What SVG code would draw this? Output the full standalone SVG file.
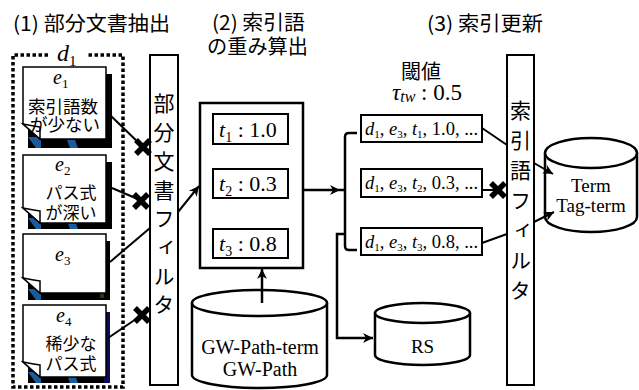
<svg xmlns="http://www.w3.org/2000/svg" xmlns:xlink="http://www.w3.org/1999/xlink" width="639" height="390" viewBox="0 0 639 390">
<style>
.jp{font-family:"Noto Sans CJK JP","Noto Sans",sans-serif;fill:#000}
.sf{font-family:"Liberation Serif","DejaVu Serif",serif;fill:#000}
.it{font-style:italic}
.vt{writing-mode:vertical-rl;font-family:"Noto Sans CJK JP",sans-serif;font-size:21px;fill:#000}
.box{fill:#fff;stroke:#000;stroke-width:2}
.bx2{fill:#fff;stroke:#000;stroke-width:2.5}
.ln{fill:none;stroke:#000;stroke-width:2}
.lnb{fill:none;stroke:#000;stroke-width:2.5}
.page{fill:#fff;stroke:#000;stroke-width:1.5}
.cross{stroke:#000;stroke-width:5.5;fill:none}
</style>
<defs>
<marker id="ah" markerWidth="12" markerHeight="12" refX="10" refY="6" orient="auto" markerUnits="userSpaceOnUse">
<path d="M0,1 L10,6 L0,11 L3,6 Z" fill="#000"/>
</marker>
<path id="xm" class="cross" d="M-7,-7 L7,7 M-7,7 L7,-7"/>
</defs>

<!-- titles -->
<text class="jp" x="13" y="31" font-size="20" textLength="157" lengthAdjust="spacingAndGlyphs">(1) 部分文書抽出</text>
<text class="jp" x="212" y="30" font-size="20" textLength="93" lengthAdjust="spacingAndGlyphs">(2) 索引語</text>
<text class="jp" x="207" y="54" font-size="20" textLength="101" lengthAdjust="spacingAndGlyphs">の重み算出</text>
<text class="jp" x="427" y="31" font-size="20" textLength="116" lengthAdjust="spacingAndGlyphs">(3) 索引更新</text>

<!-- d1 group -->
<g id="d1">
<path d="M48,55 H13 V387 H123 V55 H88" fill="none" stroke="#000" stroke-width="3.5" stroke-dasharray="3.5,2.5"/>
<text class="sf it" x="57" y="61" font-size="24">d<tspan font-style="normal" font-size="15" dy="5">1</tspan></text>
</g>

<!-- pages -->
<g id="e1">
<rect x="28" y="74" width="84" height="74" fill="#000"/>
<polygon points="28,137 41,137 41,148 36,148" fill="#1a5a9e"/>
<polygon points="67,140 75,140 78,148 70,148" fill="#1a5a9e"/>
<path class="page" d="M23,67 H106 V139 H40 L23,124 Z"/>
<path class="page" d="M23,124 Q33,126 40,127 L40,139 Z"/>
<text class="sf it" x="53" y="84" font-size="20">e<tspan font-style="normal" font-size="13" dy="4">1</tspan></text>
<text class="jp" font-size="17.5" text-anchor="middle"><tspan x="63" y="113">索引語数</tspan><tspan x="65" y="131">が少ない</tspan></text>
</g>
<g id="e2">
<rect x="28" y="162" width="84" height="67" fill="#000"/>
<polygon points="28,218 41,218 41,229 36,229" fill="#1a5a9e"/>
<polygon points="67,221 75,221 78,229 70,229" fill="#1a5a9e"/>
<path class="page" d="M23,155 H106 V223 H40 L23,208 Z"/>
<path class="page" d="M23,208 Q33,210 40,211 L40,223 Z"/>
<text class="sf it" x="55" y="171" font-size="20">e<tspan font-style="normal" font-size="13" dy="4">2</tspan></text>
<text class="jp" font-size="17" text-anchor="middle"><tspan x="71" y="199">パス式</tspan><tspan x="71" y="219">が深い</tspan></text>
</g>
<g id="e3">
<rect x="28" y="241" width="82" height="59" fill="#000"/>
<rect x="100" y="243" width="4" height="55" fill="#1d3a12"/>
<polygon points="28,289 41,289 41,300 36,300" fill="#1a5a9e"/>
<path class="page" d="M23,234 H106 V293 H40 L23,278 Z"/>
<path class="page" d="M23,278 Q33,280 40,281 L40,293 Z"/>
<text class="sf it" x="55" y="261" font-size="20">e<tspan font-style="normal" font-size="13" dy="4">3</tspan></text>
</g>
<g id="e4">
<rect x="28" y="312" width="82" height="71" fill="#000"/>
<rect x="104" y="312" width="6" height="71" fill="#0b0b55"/>
<polygon points="28,372 41,372 41,383 36,383" fill="#1a5a9e"/>
<polygon points="67,375 75,375 78,383 70,383" fill="#1a5a9e"/>
<path class="page" d="M23,305 H106 V377 H40 L23,362 Z"/>
<path class="page" d="M23,362 Q33,364 40,365 L40,377 Z"/>
<text class="sf it" x="56" y="322" font-size="20">e<tspan font-style="normal" font-size="13" dy="4">4</tspan></text>
<text class="jp" font-size="17" text-anchor="middle"><tspan x="71" y="350">稀少な</tspan><tspan x="71" y="370">パス式</tspan></text>
</g>

<!-- filter 1 -->
<g id="filter1">
<rect class="box" x="150" y="55" width="28" height="330"/>
<text class="vt" x="164" y="93" letter-spacing="7.7">部分文書フィルタ</text>
</g>

<!-- box 2 -->
<g id="weights">
<rect class="bx2" x="200" y="103" width="103" height="165"/>
<rect class="box" x="213" y="114" width="75" height="30"/>
<rect class="box" x="213" y="169" width="75" height="29"/>
<rect class="box" x="213" y="229" width="75" height="29"/>
<text class="sf" x="219" y="137" font-size="22"><tspan font-style="italic">t</tspan><tspan font-size="14" dy="5">1</tspan><tspan dy="-5"> : 1.0</tspan></text>
<text class="sf" x="219" y="191" font-size="22"><tspan font-style="italic">t</tspan><tspan font-size="14" dy="5">2</tspan><tspan dy="-5"> : 0.3</tspan></text>
<text class="sf" x="219" y="251" font-size="22"><tspan font-style="italic">t</tspan><tspan font-size="14" dy="5">3</tspan><tspan dy="-5"> : 0.8</tspan></text>
</g>

<!-- GW-Path cylinder -->
<g id="gwpath">
<path d="M192,303 V375 A67.5,13 0 0 0 327,375 V303" fill="#fff" stroke="#000" stroke-width="2.5"/>
<ellipse cx="259.5" cy="303" rx="67.5" ry="13" fill="#fff" stroke="#000" stroke-width="2.5"/>
<text class="sf" x="260" y="354" font-size="20" text-anchor="middle">GW-Path-term</text>
<text class="sf" x="260" y="376" font-size="20" text-anchor="middle">GW-Path</text>
</g>

<!-- threshold -->
<g id="threshold">
<text class="jp" x="421" y="79" font-size="20" text-anchor="middle">閾値</text>
<text class="sf" x="392" y="100" font-size="23"><tspan font-style="italic">τ</tspan><tspan font-style="italic" font-size="16" dy="2">tw</tspan><tspan dy="-2"> : 0.5</tspan></text>
</g>

<!-- column 3 boxes -->
<g id="rec1">
<rect class="box" x="361" y="115" width="121" height="27"/>
<text class="sf" x="365" y="135" font-size="18.5"><tspan class="it">d</tspan><tspan font-size="11" dy="3">1</tspan><tspan dy="-3">, </tspan><tspan class="it">e</tspan><tspan font-size="11" dy="3">3</tspan><tspan dy="-3">, </tspan><tspan class="it">t</tspan><tspan font-size="11" dy="3">1</tspan><tspan dy="-3">, 1.0, ...</tspan></text>
</g>
<g id="rec2">
<rect class="box" x="361" y="169" width="121" height="28"/>
<text class="sf" x="365" y="189" font-size="18.5"><tspan class="it">d</tspan><tspan font-size="11" dy="3">1</tspan><tspan dy="-3">, </tspan><tspan class="it">e</tspan><tspan font-size="11" dy="3">3</tspan><tspan dy="-3">, </tspan><tspan class="it">t</tspan><tspan font-size="11" dy="3">2</tspan><tspan dy="-3">, 0.3, ...</tspan></text>
</g>
<g id="rec3">
<rect class="box" x="361" y="228" width="121" height="27"/>
<text class="sf" x="365" y="248" font-size="18.5"><tspan class="it">d</tspan><tspan font-size="11" dy="3">1</tspan><tspan dy="-3">, </tspan><tspan class="it">e</tspan><tspan font-size="11" dy="3">3</tspan><tspan dy="-3">, </tspan><tspan class="it">t</tspan><tspan font-size="11" dy="3">3</tspan><tspan dy="-3">, 0.8, ...</tspan></text>
</g>

<!-- filter 2 -->
<g id="filter2">
<rect class="box" x="507" y="55" width="27" height="330"/>
<text class="vt" x="520.5" y="100" letter-spacing="9">索引語フィルタ</text>
</g>

<!-- Term cylinder -->
<g id="term">
<path d="M545,153 V217 A46,15 0 0 0 637,217 V153" fill="#fff" stroke="#000" stroke-width="2.5"/>
<ellipse cx="591" cy="153" rx="46" ry="15" fill="#fff" stroke="#000" stroke-width="2.5"/>
<text class="sf" x="591" y="192" font-size="19" text-anchor="middle">Term</text>
<text class="sf" x="591" y="212" font-size="19" text-anchor="middle">Tag-term</text>
</g>

<!-- RS cylinder -->
<g id="rs">
<path d="M375,313 V355 A47.5,10 0 0 0 470,355 V313" fill="#fff" stroke="#000" stroke-width="2.5"/>
<ellipse cx="422.5" cy="313" rx="47.5" ry="10" fill="#fff" stroke="#000" stroke-width="2.5"/>
<text class="sf" x="422.5" y="353" font-size="19" text-anchor="middle">RS</text>
</g>

<!-- connectors -->
<g id="connectors">
<path class="ln" d="M110,115 L143,147"/>
<path class="ln" d="M112,188 L140,200"/>
<path class="ln" d="M110,262 L150,228"/>
<path class="ln" d="M108,338 L142,315"/>
<use xlink:href="#xm" x="143" y="147"/>
<use xlink:href="#xm" x="141" y="201"/>
<use xlink:href="#xm" x="142" y="315"/>
<path class="ln" d="M178,212 L199,186" marker-end="url(#ah)"/>
<path class="lnb" d="M262,303 V269" marker-end="url(#ah)"/>
<path class="lnb" d="M303,190 H340" marker-end="url(#ah)"/>
<path class="lnb" d="M357,133 H349 Q345,133 345,137 V246 Q345,250 349,250 H357"/>
<path class="lnb" d="M345,190 H340"/>
<path class="lnb" d="M345,234 H337 V338 H373" marker-end="url(#ah)"/>
<path class="ln" d="M482,128 L507,145"/>
<path class="ln" d="M534,163 L553,174" marker-end="url(#ah)"/>
<path class="ln" d="M482,190 L496,190"/>
<use xlink:href="#xm" x="498" y="190"/>
<path class="ln" d="M482,243 L507,234"/>
<path class="ln" d="M534,222 L554,212" marker-end="url(#ah)"/>
</g>
</svg>
